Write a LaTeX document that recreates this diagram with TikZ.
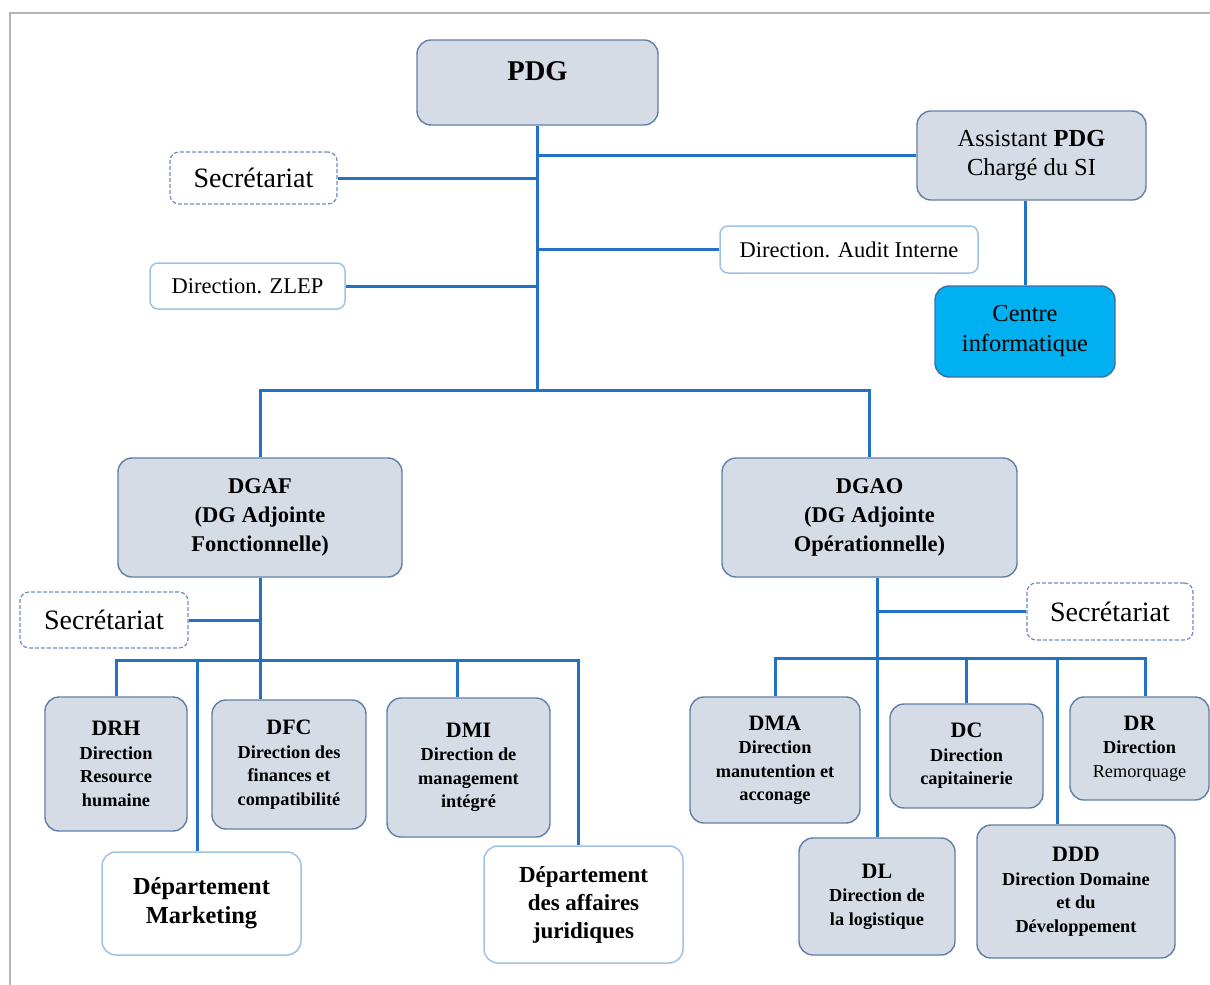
\documentclass[tikz,border=0pt]{standalone}
\usepackage{fontspec}
\setmainfont{Liberation Serif}
\usetikzlibrary{positioning}
\definecolor{OrgFill}{HTML}{D6DCE5}
\definecolor{OrgLine}{HTML}{5F7FA8}
\definecolor{OrgLink}{HTML}{2272C3}
\definecolor{OrgPale}{HTML}{9DC3E6}
\definecolor{OrgDash}{HTML}{6E8CC8}
\definecolor{OrgCyan}{HTML}{00B0F0}
\definecolor{OrgCyanLine}{HTML}{3A6FA8}
\definecolor{OrgFrame}{HTML}{B4B4B4}
\newcommand{\boxtitle}[1]{{\fontsize{22}{26}\selectfont #1}}

\begin{document}
\begin{tikzpicture}[x=1pt,y=-1pt,
    every node/.style={inner sep=0pt,align=center},
    unit/.style={draw=OrgLine,fill=OrgFill,line width=1.4pt,rounded corners=14pt,
      font=\bfseries\fontsize{18.3}{23.5}\selectfont},
    head/.style={unit,font=\bfseries\fontsize{22.5}{29}\selectfont},
    pale/.style={draw=OrgPale,fill=white,line width=1.5pt,rounded corners=8pt,
      font=\fontsize{22.5}{27}\selectfont},
    dept/.style={pale,rounded corners=14pt,font=\bfseries\fontsize{24.4}{29}\selectfont},
    secr/.style={draw=OrgDash,dashed,dash pattern=on 4pt off 2pt,line width=1.2pt,
      fill=white,rounded corners=9pt,font=\fontsize{28}{32}\selectfont},
    link/.style={draw=OrgLink,line width=3pt}]
  \useasboundingbox (0,0) rectangle (1210,985);
  \draw[OrgFrame,line width=2pt] (10,985) -- (10,13) -- (1210,13);

  % direction generale
  \node[unit,minimum width=241pt,minimum height=85pt,text height=20pt,text depth=25pt,
    font=\bfseries\fontsize{28.6}{34}\selectfont] (pdg) at (537.5,82.5) {PDG};
  \node[unit,minimum width=229pt,minimum height=89pt,font=\fontsize{24.5}{29}\selectfont]
    (asst) at (1031.5,155.5) {Assistant \textbf{PDG}\\Chargé du SI};
  \node[unit,fill=OrgCyan,draw=OrgCyanLine,minimum width=180pt,minimum height=91pt,
    font=\fontsize{24.4}{30}\selectfont] (centre) at (1025,331.5) {Centre\\informatique};
  \node[secr,minimum width=167pt,minimum height=52pt] (sec1) at (253.5,178) {Secrétariat};
  \node[pale,minimum width=195pt,minimum height=46pt] (zlep) at (247.5,286) {Direction. ZLEP};
  \node[pale,minimum width=258pt,minimum height=47pt] (audit) at (849,249.5) {Direction. Audit Interne};

  \node[head,minimum width=284pt,minimum height=119pt] (dgaf) at (260,517.5)
    {DGAF\\(DG Adjointe\\Fonctionnelle)};
  \node[head,minimum width=295pt,minimum height=119pt] (dgao) at (869.5,517.5)
    {DGAO\\(DG Adjointe\\Opérationnelle)};

  % pole fonctionnel
  \node[secr,minimum width=168pt,minimum height=56pt] (sec2) at (104,620) {Secrétariat};
  \node[unit,minimum width=142pt,minimum height=134pt] (drh) at (116,764)
    {\boxtitle{DRH}\\Direction\\Resource\\humaine};
  \node[unit,minimum width=154pt,minimum height=129pt] (dfc) at (289,764.5)
    {\boxtitle{DFC}\\Direction des\\finances et\\compatibilité};
  \node[unit,minimum width=163pt,minimum height=139pt] (dmi) at (468.5,767.5)
    {\boxtitle{DMI}\\Direction de\\management\\intégré};
  \node[dept,minimum width=199pt,minimum height=103pt] (mkt) at (201.5,903.5)
    {Département\\Marketing};
  \node[dept,minimum width=199pt,minimum height=117pt,font=\bfseries\fontsize{23}{28}\selectfont]
    (jur) at (583.5,904.5) {Département\\des affaires\\juridiques};

  % pole operationnel
  \node[secr,minimum width=166pt,minimum height=57pt] (sec3) at (1110,611.5) {Secrétariat};
  \node[unit,minimum width=170pt,minimum height=126pt] (dma) at (775,760)
    {\boxtitle{DMA}\\Direction\\manutention et\\acconage};
  \node[unit,minimum width=153pt,minimum height=104pt] (dc) at (966.5,756)
    {\boxtitle{DC}\\Direction\\capitainerie};
  \node[unit,minimum width=139pt,minimum height=103pt] (dr) at (1139.5,748.5)
    {\boxtitle{DR}\\Direction\\\mdseries Remorquage};
  \node[unit,minimum width=156pt,minimum height=117pt] (dl) at (877,896.5)
    {\boxtitle{DL}\\Direction de\\la logistique};
  \node[unit,minimum width=198pt,minimum height=133pt] (ddd) at (1076,891.5)
    {\boxtitle{DDD}\\Direction Domaine\\et du\\Développement};

  \coordinate (jt) at (pdg.south |- 0,390);
  \coordinate (jl) at (dgaf.south |- 0,660);
  \coordinate (jr) at (dl.north |- 0,658);

  \draw[link] (pdg.south) -- (jt);
  \draw[link] (asst.west) -- (asst.west -| pdg.south);
  \draw[link] (sec1.east) -- (sec1.east -| pdg.south);
  \draw[link] (audit.west) -- (audit.west -| pdg.south);
  \draw[link] (zlep.east) -- (zlep.east -| pdg.south);
  \draw[link] (centre.north) -- (centre.north |- asst.south);
  \draw[link] (dgaf.north) |- (jt) -| (dgao.north);

  \draw[link] (dgaf.south) -- (dgaf.south |- dfc.north);
  \draw[link] (sec2.east) -- (sec2.east -| dgaf.south);
  \draw[link] (drh.north) |- (jl) -| ([xshift=-5pt]jur.north);
  \draw[link] ([xshift=-4pt]mkt.north) -- ([xshift=-4pt]mkt.north |- jl);
  \draw[link] ([xshift=-11pt]dmi.north) -- ([xshift=-11pt]dmi.north |- jl);

  \draw[link] (dl.north |- dgao.south) -- (dl.north);
  \draw[link] (sec3.west) -- (sec3.west -| dl.north);
  \draw[link] (dma.north) |- (jr) -| ([xshift=6pt]dr.north);
  \draw[link] (dc.north) -- (dc.north |- jr);
  \draw[link] ([xshift=-19pt]ddd.north) -- ([xshift=-19pt]ddd.north |- jr);
\end{tikzpicture}
\end{document}
